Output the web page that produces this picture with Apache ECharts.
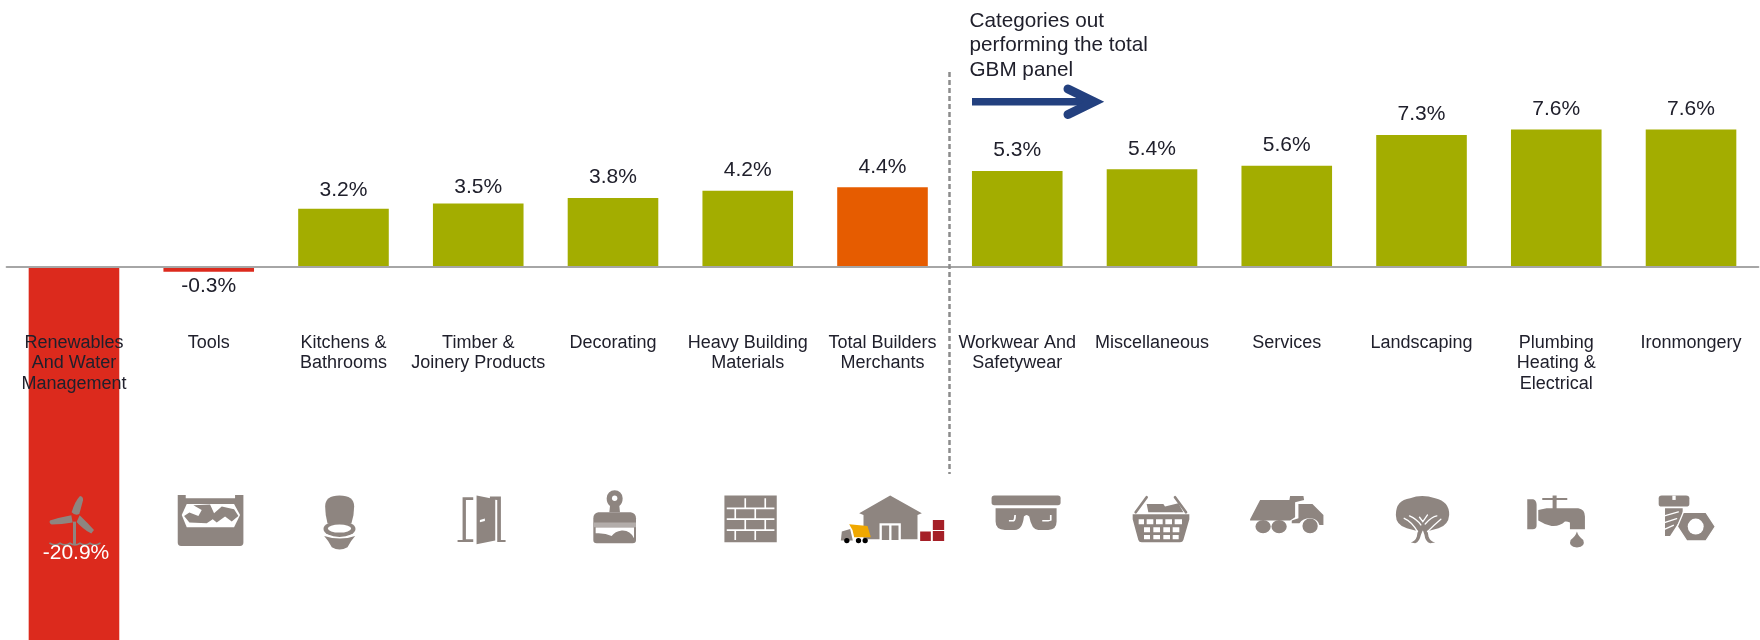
<!DOCTYPE html>
<html>
<head>
<meta charset="utf-8">
<style>html,body{margin:0;padding:0;background:#fff}#c{width:1760px;height:640px}</style>
<script src="https://cdn.jsdelivr.net/npm/echarts@6/dist/echarts.min.js"></script>
</head>
<body>
<div id="c"></div>
<script>
const categories = ['Renewables\nAnd Water\nManagement','Tools','Kitchens &\nBathrooms','Timber &\nJoinery Products','Decorating','Heavy Building\nMaterials','Total Builders\nMerchants','Workwear And\nSafetywear','Miscellaneous','Services','Landscaping','Plumbing\nHeating &\nElectrical','Ironmongery'];
const growth = [-20.9,-0.3,3.2,3.5,3.8,4.2,4.4,5.3,5.4,5.6,7.3,7.6,7.6];
const totalCategory = 'Total Builders\nMerchants';
const noteLines = ['Categories out','performing the total','GBM panel'];

const GREY='#8e8580', W='#ffffff', RED='#dc2a1d', ORANGE='#e65c00', GREEN='#a3ad00', INK='#20202c', BLUE='#23407f';
const FONT='"Liberation Sans", Arial, sans-serif';

// Pictograms: traced at 3x, [pathData, fill, stroke, strokeWidth]; ox = icon centre in tracing space
const icons = [
 {ox:132,parts:[
  ['M150 48Q161 50 159 62L148 102Q135 108 125 97Q134 65 150 48Z',GREY],
  ['M60 122Q90 112 124 106L128 128Q95 134 65 134Q56 130 60 122Z',GREY],
  ['M149 106Q172 128 192 150L184 161Q158 147 140 126Z',GREY],
  ['M129 125L138 125L138 195L129 195Z',GREY],
  ['M60 190Q75 200 90 190Q105 200 120 190Q135 200 150 190Q165 200 180 190Q195 200 210 190',null,GREY,5]]},
 {ox:536,parts:[
  ['M443 45L467 45L467 55L615 55L615 45L640 45L640 188Q640 198 630 198L453 198Q443 198 443 188Z',GREY],
  ['M470 72L612 72L630 105L612 142L470 142L455 105Z',W],
  ['M490 76L540 74L552 100L575 80L612 88L625 108L605 125L585 110L560 128L548 118L530 130L478 128L462 108L478 98L505 108L515 90Z',GREY]]},
 {ox:940,parts:[
  ['M885 80Q885 47 928 47Q972 47 972 80Q972 105 964 130L892 130Q885 105 885 80Z',GREY],
  ['M880 147a48 24 0 1 0 96 0a48 24 0 1 0 -96 0Z',GREY],
  ['M893 146a35 12 0 1 0 70 0a35 12 0 1 0 -70 0Z',W],
  ['M882 168Q930 183 975 168Q962 182 952 202Q928 215 905 202Q895 182 882 168Z',GREY]]},
 {ox:115,parts:[
  ['M68 52L100 52L100 60L78 60L78 178L100 178L100 186L53 186L53 180L68 180Z',GREY],
  ['M150 50L183 50L183 180L197 180L197 186L172 186L172 60L150 58Z',GREY],
  ['M110 47L166 58L166 182L110 193Z',GREY],
  ['M120 120L135 116L135 123L120 127Z',W]]},
 {ox:519,parts:[
  ['M500 55A24 24 0 0 1 548 55Q548 70 538 78L540 97L508 97L510 78Q500 70 500 55Z',GREY],
  ['M516 55a8 8 0 1 0 16 0a8 8 0 1 0 -16 0Z',W],
  ['M475 97L572 97Q588 100 588 115L588 180Q588 190 578 190L470 190Q460 190 460 180L460 115Q460 100 475 97Z',GREY],
  ['M460 128L588 128L588 142L460 142Z','#b3adaa'],
  ['M467 143L582 143L582 175Q570 150 545 152Q525 155 515 168Q495 158 467 160Z',W]]},
 {ox:923,parts:[
  ['M853 47L1010 47L1010 187L853 187Z',GREY],
  ['M860 83h143v5h-143zM860 115h143v5h-143zM860 148h143v5h-143zM913 55h5v28h-5zM973 55h5v28h-5zM883 88h5v27h-5zM943 88h5v27h-5zM913 120h5v28h-5zM973 120h5v28h-5zM883 153h5v27h-5zM943 153h5v27h-5z',W]]},
 {ox:157,parts:[
  ['M180 47L275 100L262 105L262 178L100 178L100 105L87 100Z',GREY],
  ['M148 130L212 130L212 180L148 180Z',W],
  ['M155 137L177 137L177 180L155 180ZM184 137L205 137L205 180L184 180Z',GREY],
  ['M32 182L35 155L60 147L68 182Z',GREY],
  ['M57 133L112 138L122 172L72 172L67 150Z','#f0a800'],
  ['M42 182a8 8 0 1 0 16 0a8 8 0 1 0 -16 0ZM77 182a8 8 0 1 0 16 0a8 8 0 1 0 -16 0ZM97 182a8 8 0 1 0 16 0a8 8 0 1 0 -16 0Z','#000000'],
  ['M270 155L302 155L302 183L270 183ZM308 120L342 120L342 150L308 150ZM308 153L342 153L342 183L308 183Z','#a51f27']]},
 {ox:562,parts:[
  ['M493 47L684 47Q692 47 692 55L692 68Q692 76 684 76L493 76Q485 76 485 68L485 55Q485 47 493 47Z',GREY],
  ['M497 85L680 85L680 125Q680 150 655 150L625 150Q605 150 598 110Q590 100 582 110Q578 150 555 150L525 150Q497 150 497 125Z',GREY],
  ['M537 125L552 125Q558 122 558 105L553 105Q552 118 550 120L537 120Z',W],
  ['M637 125L655 125L665 122L665 105L660 105L660 120L637 120Z',W]]},
 {ox:966,parts:[
  ['M917 97L950 52',null,GREY,8],['M1035 52L1068 97',null,GREY,8],
  ['M950 72L1000 72L1005 80L1045 70L1060 97L955 97Z',GREY],
  ['M908 103L1078 103L1078 118L1060 180Q1058 187 1050 187L935 187Q927 187 925 180L908 118Z',GREY],
  ['M926 118h16v15h-16zM950 118h20v15h-20zM978 118h20v15h-20zM1006 118h20v15h-20zM1034 118h22v15h-22zM942 142h18v15h-18zM970 142h20v15h-20zM1000 142h20v15h-20zM1028 142h20v15h-20zM942 165h18v13h-18zM970 165h20v13h-20zM1000 165h20v13h-20zM1028 165h18v13h-18z',W]]},
 {ox:170,parts:[
  ['M60 118L90 60L178 60L180 48L220 48L222 60L195 67L195 112L180 122L60 122Z',GREY],
  ['M205 72L247 72L280 105L280 135L268 135Q262 115 240 115Q218 115 208 130L185 130L185 122L205 115Z',GREY],
  ['M76 140a23 20 0 1 0 46 0a23 20 0 1 0 -46 0ZM124 140a23 20 0 1 0 46 0a23 20 0 1 0 -46 0ZM217 138a23 22 0 1 0 46 0a23 22 0 1 0 -46 0Z',GREY]]},
 {ox:574,parts:[
  ['M497 105Q497 60 540 55Q575 42 615 55Q658 65 657 105Q655 135 625 145L600 152L555 152L530 145Q497 135 497 105Z',GREY],
  ['M565 140L590 140L595 170Q600 185 615 188L600 190Q585 185 583 165L578 150L572 165Q568 185 555 190L542 188Q556 183 560 170Z',GREY],
  ['M522 115Q545 125 562 155M538 108Q560 118 572 135M568 112L578 125L592 105M585 132Q605 110 620 108M592 155Q612 135 632 118',null,W,4]]},
 {ox:979,parts:[
  ['M892 58L910 58Q920 62 920 75L920 135Q920 148 908 148L892 148Z',GREY],
  ['M937 54L1012 54L1012 60L937 60ZM968 47L980 47L980 88L968 88Z',GREY],
  ['M925 90L950 85L1045 85Q1065 88 1065 110L1065 148L1020 148L1020 128Q1010 123 1005 125Q990 140 965 138Q945 135 925 122Z',GREY],
  ['M1041 155Q1045 170 1060 180Q1068 200 1041 203Q1014 200 1022 180Q1037 170 1041 155Z',GREY]]},
 {ox:1383,parts:[
  ['M1286 55Q1286 47 1295 47L1368 47Q1378 47 1378 55L1378 72Q1378 80 1368 80L1295 80Q1286 80 1286 72Z',GREY],
  ['M1327 47L1337 47L1337 60L1327 60Z',W],
  ['M1305 85L1358 85L1358 110L1320 168L1305 168Z',GREY],
  ['M1303 108L1345 96M1303 128L1340 116M1303 148L1330 136',null,W,4],
  ['M1360 97L1428 97L1456 140L1428 183L1370 183L1342 140Z',GREY,W,4],
  ['M1373 140a24 24 0 1 0 48 0a24 24 0 1 0 -48 0Z',W]]}
];

const barData = growth.map((v,i)=>({
  value:v,
  itemStyle:{color: v<0 ? RED : categories[i]===totalCategory ? ORANGE : GREEN}
}));
const labelData = growth.map((v,i)=>{
  const big = v<-10;
  return {
    value:v,
    label: big
      ? {position:'inside',offset:[2,99],color:'#ffffff'}
      : {position: v<0?'bottom':'top', distance: v<0?4:(i===2?8:i===3?6:10), color:INK}
  };
});

const chart = echarts.init(document.getElementById('c'),null,{renderer:'canvas'});
chart.setOption({
  animation:false,
  backgroundColor:'#ffffff',
  textStyle:{fontFamily:FONT},
  tooltip:{show:false},
  grid:{left:6.6,width:1751.8,top:0,height:642.7,containLabel:false,outerBoundsMode:'none'},
  xAxis:{
    type:'category',data:categories,z:6,
    axisLine:{onZero:true,lineStyle:{color:'#a6a6a6',width:2}},
    axisTick:{show:false},
    axisLabel:{interval:0,margin:-310.5,fontSize:18,lineHeight:20.7,color:INK,fontFamily:FONT,verticalAlign:'top'}
  },
  yAxis:{type:'value',min:-20.9,max:14.8,show:false,splitLine:{show:false}},
  series:[
    {name:'Growth',type:'bar',data:barData,barWidth:90.6,z:2,silent:true},
    {name:'Icons',type:'custom',z:3,silent:true,clip:false,
      data:categories.map((c,i)=>[i,0]),
      encode:{x:0,y:1},
      renderItem:(params,api)=>{
        const icon=icons[params.dataIndex];
        const p=api.coord([api.value(0),0]);
        const x=p[0]-icon.ox/3, y=p[1]+213.5;
        return {type:'group',x:x,y:y,scaleX:1/3,scaleY:1/3,children:icon.parts.map(q=>({
          type:'path',shape:{pathData:q[0]},
          style:{fill:q[1]||'none',stroke:q[2]||null,lineWidth:q[3]||0,lineCap:'round'}
        }))};
      }},
    {name:'Labels',type:'bar',data:labelData,barWidth:90.6,barGap:'-100%',z:4,silent:true,
      itemStyle:{color:'transparent'},
      label:{show:true,fontSize:21,fontFamily:FONT,formatter:p=>p.value.toFixed(1)+'%'}}
  ],
  graphic:[
    {type:'line',z:7,silent:true,shape:{x1:949.5,y1:72,x2:949.5,y2:474},style:{stroke:'#8c8c8c',lineWidth:2.5,lineDash:[5,3]}},
    {type:'text',z:7,silent:true,x:969.5,y:9,style:{text:noteLines.join('\n'),font:'20.7px '+FONT,lineHeight:24.5,fill:INK}},
    {type:'line',z:7,silent:true,shape:{x1:972,y1:101.7,x2:1092,y2:101.7},style:{stroke:BLUE,lineWidth:7.5}},
    {type:'polyline',z:7,silent:true,shape:{points:[[1068,89],[1094,101.7],[1068,114.5]]},style:{stroke:BLUE,fill:'none',lineWidth:9,lineCap:'round',lineJoin:'miter'}}
  ]
});
</script>
</body>
</html>
